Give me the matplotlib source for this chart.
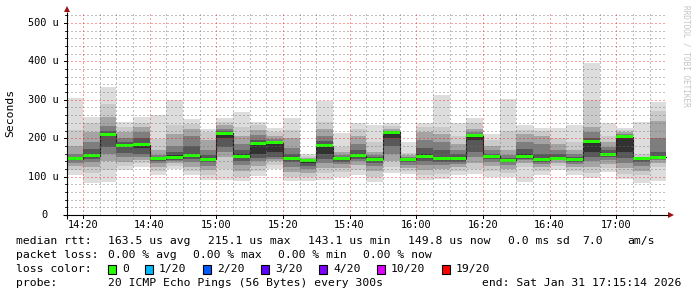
import matplotlib
matplotlib.use('Agg')
import matplotlib.pyplot as plt
from matplotlib.patches import Polygon, Rectangle
import numpy as np

# ---------------- data ----------------
# 5-minute bins starting at 14:15 (minutes after 14:00); the chart window is 14:15:14 .. 17:15:14
bin_start_min = list(range(15, 195, 5))
window_start_min = 15 + 14 / 60
window_end_min = 195 + 14 / 60

# median rtt per bin (microseconds)
median_us = [147, 154, 210, 181, 183, 147, 151, 154, 145, 213, 153, 187,
             188, 147, 143.1, 180, 147, 154, 145, 215.1, 145, 152, 146, 146,
             207, 153, 143, 152, 143.5, 148, 144, 191, 157, 204, 148, 149.8]

# smoke bands (outer -> inner): upper edges
smoke_hi = [
    [304, 222, 180, 160, 152, 149], [256, 240, 215, 190, 172, 158],
    [334, 288, 255, 232, 218, 212], [243, 230, 215, 200, 190, 184],
    [256, 240, 228, 215, 200, 188], [260, 197, 170, 155, 150, 148],
    [300, 235, 210, 180, 165, 155], [249, 238, 225, 205, 180, 160],
    [224, 215, 195, 170, 155, 148], [252, 243, 235, 225, 220, 216],
    [269, 230, 205, 185, 170, 158], [243, 235, 222, 208, 195, 190],
    [226, 215, 205, 198, 192, 189], [253, 222, 200, 175, 158, 150],
    [159, 153, 148, 146, 144, 143], [297, 243, 225, 205, 192, 184],
    [213, 178, 165, 155, 150, 148], [240, 225, 205, 185, 170, 158],
    [234, 190, 165, 155, 150, 147], [239, 232, 225, 220, 217, 216],
    [190, 162, 155, 150, 147, 146], [239, 228, 215, 195, 175, 160],
    [312, 230, 210, 190, 170, 152], [239, 205, 185, 168, 158, 150],
    [253, 240, 225, 215, 210, 209], [210, 195, 180, 168, 160, 155],
    [302, 220, 170, 155, 148, 145], [234, 222, 210, 190, 172, 158],
    [227, 218, 205, 185, 160, 147], [227, 200, 185, 170, 160, 152],
    [234, 190, 170, 158, 150, 146], [395, 300, 230, 215, 200, 193],
    [240, 205, 190, 178, 168, 160], [226, 222, 215, 210, 207, 206],
    [241, 158, 152, 150, 149, 148], [293, 270, 245, 200, 165, 152],
]
# smoke bands (outer -> inner): lower edges
smoke_lo = [
    [104, 118, 128, 136, 142, 145], [84, 110, 125, 137, 145, 151],
    [87, 118, 140, 160, 178, 205], [117, 128, 138, 150, 162, 176],
    [126, 135, 142, 150, 160, 175], [103, 115, 125, 135, 141, 145],
    [119, 128, 135, 140, 144, 148], [105, 115, 125, 138, 145, 151],
    [92, 105, 118, 128, 137, 142], [91, 120, 150, 165, 178, 200],
    [88, 100, 115, 130, 140, 148], [101, 115, 128, 140, 148, 160],
    [120, 130, 140, 147, 152, 165], [88, 100, 112, 125, 137, 143],
    [88, 100, 110, 120, 128, 135], [92, 110, 122, 135, 145, 160],
    [100, 112, 122, 132, 138, 143], [105, 118, 130, 140, 146, 151],
    [85, 100, 115, 128, 136, 142], [109, 125, 140, 160, 180, 200],
    [106, 115, 123, 130, 137, 142], [91, 105, 118, 130, 140, 148],
    [94, 108, 120, 130, 138, 143], [103, 115, 125, 133, 139, 143],
    [108, 120, 135, 150, 165, 195], [100, 115, 128, 138, 145, 150],
    [100, 110, 120, 130, 137, 141], [87, 125, 135, 142, 146, 150],
    [104, 115, 125, 133, 138, 141], [117, 128, 136, 142, 145, 147],
    [104, 115, 125, 133, 138, 142], [97, 110, 125, 140, 150, 165],
    [111, 122, 132, 142, 150, 155], [94, 108, 122, 135, 148, 165],
    [84, 104, 115, 128, 138, 144], [88, 125, 135, 142, 146, 148],
]
smoke_grey = [221, 202, 164, 126, 88, 50]

x_tick_min = [20, 40, 60, 80, 100, 120, 140, 160, 180]
x_tick_labels = ['14:20', '14:40', '15:00', '15:20', '15:40', '16:00', '16:20', '16:40', '17:00']
y_tick_vals = [0, 100, 200, 300, 400, 500]
y_tick_labels = ['0', '100 u', '200 u', '300 u', '400 u', '500 u']

loss_labels = ['0', '1/20', '2/20', '3/20', '4/20', '10/20', '19/20']
loss_colors = ['#26ff00', '#00b8ff', '#0059ff', '#5e00ff', '#7e00ff', '#dd00ff', '#ff0000']

stats_rtt = ['163.5 us avg', '215.1 us max', '143.1 us min', '149.8 us now', '0.0 ms sd', '7.0', 'am/s']
stats_loss = ['0.00 % avg', '0.00 % max', '0.00 % min', '0.00 % now']
probe_text = '20 ICMP Echo Pings (56 Bytes) every 300s'
end_text = 'end: Sat Jan 31 17:15:14 2026'

# ---------------- figure ----------------
W, H = 697, 297
fig = plt.figure(figsize=(W / 100, H / 100), dpi=100)
fig.patch.set_facecolor('white')

AX_L, AX_R, AX_B, AX_T = 67, 667, 215, 12
px_per_u = 0.384
ax = fig.add_axes([AX_L / W, 1 - AX_B / H, (AX_R - AX_L) / W, (AX_B - AX_T) / H])
ax.set_xlim(window_start_min, window_end_min)
ax.set_ylim(0, (AX_B - AX_T) / px_per_u)
ax.set_facecolor('white')
for s in ax.spines.values():
    s.set_visible(False)
ax.set_xticks([])
ax.set_yticks([])

starts = np.array(bin_start_min, dtype=float)
hi = np.array(smoke_hi, dtype=float)
lo = np.array(smoke_lo, dtype=float)
med = np.array(median_us, dtype=float)

for j, g in enumerate(smoke_grey):
    c = '#%02x%02x%02x' % (g, g, g)
    ax.bar(starts, hi[:, j] - lo[:, j], bottom=lo[:, j], width=5, align='edge',
           color=c, linewidth=0, zorder=1 + j * 0.01)

# dark median step line
ax.step(np.r_[starts, starts[-1] + 5], np.r_[med, med[-1]], where='post',
        color='#202020', lw=0.8, zorder=2)
# green median band (0 loss)
sw = 1.5 / px_per_u
ax.bar(starts, 2 * sw, bottom=med - sw, width=5, align='edge',
       color=loss_colors[0], linewidth=0, zorder=3)

# grid on top (rrdtool style, dotted)
dot = (0, (1, 2))
ymax = (AX_B - AX_T) / px_per_u
minor_c = (0.45, 0.45, 0.45, 0.45)
major_c = (1, 0, 0, 0.38)
for v in range(20, int(ymax) + 1, 20):
    c = major_c if v % 100 == 0 else minor_c
    ax.axhline(v, color=c, lw=1.0, ls=dot, zorder=5, antialiased=False)
for m in range(20, 195, 5):
    c = major_c if m % 20 == 0 else minor_c
    ax.axvline(m, color=c, lw=1.0, ls=dot, zorder=5, antialiased=False)

# ---------------- overlay in pixel coordinates ----------------
ov = fig.add_axes([0, 0, 1, 1], facecolor='none')
ov.set_xlim(0, W)
ov.set_ylim(H, 0)
ov.axis('off')

mono = 'DejaVu Sans Mono'
AXFS = 7.4
LGFS = 8.2

# axes lines
ov.plot([63, 668], [215, 215], color='black', lw=0.8, solid_capstyle='butt')
ov.plot([67, 67], [219, 12], color='black', lw=0.8, solid_capstyle='butt')
ov.add_patch(Polygon([[668, 212], [668, 218], [674, 215]], closed=True, color='#a01010', lw=0))
ov.add_patch(Polygon([[64, 12], [70, 12], [67, 6]], closed=True, color='#a01010', lw=0))

# y ticks & labels
for v, lab in zip(y_tick_vals, y_tick_labels):
    py = AX_B - v * px_per_u
    ov.plot([64, 67], [py, py], color='black', lw=0.7)
    xr = 59 if lab != '0' else 47
    ov.text(xr, py, lab, ha='right', va='center', family=mono, fontsize=AXFS, color='black')
for v in range(20, 521, 20):
    if v % 100:
        py = AX_B - v * px_per_u
        ov.plot([65, 67], [py, py], color='black', lw=0.6)

# x tick labels
for m, lab in zip(x_tick_min, x_tick_labels):
    px = AX_L + (m - window_start_min) * (AX_R - AX_L) / (window_end_min - window_start_min)
    ov.plot([px, px], [215, 218], color='black', lw=0.7)
    ov.text(px, 225, lab, ha='center', va='center', family=mono, fontsize=AXFS, color='black')

ov.text(10, 113, 'Seconds', rotation=90, ha='center', va='center', family=mono, fontsize=LGFS)
ov.text(686, 5, 'RRDTOOL / TOBI OETIKER', rotation=270, ha='center', va='top',
        family=mono, fontsize=5.6, color='#c4c4c4')

# legend lines
y1, y2, y3, y4 = 241, 255, 269, 283
ov.text(16, y1, 'median rtt:', ha='left', va='center', family=mono, fontsize=LGFS)
for x, t in zip([108, 207.5, 307.5, 407.5, 507.5, 582, 627], stats_rtt):
    ov.text(x, y1, t, ha='left', va='center', family=mono, fontsize=LGFS)
ov.text(16, y2, 'packet loss:', ha='left', va='center', family=mono, fontsize=LGFS)
for x, t in zip([108, 193, 278, 363], stats_loss):
    ov.text(x, y2, t, ha='left', va='center', family=mono, fontsize=LGFS)
ov.text(16, y3, 'loss color:', ha='left', va='center', family=mono, fontsize=LGFS)
for bx, t, c in zip([108, 145, 203, 261, 319, 377, 442], loss_labels, loss_colors):
    ov.add_patch(Rectangle((bx, y3 - 4.5), 8, 9, facecolor=c, edgecolor='black', lw=0.8))
    ov.text(bx + 14, y3, t, ha='left', va='center', family=mono, fontsize=LGFS)
ov.text(16, y4, 'probe:', ha='left', va='center', family=mono, fontsize=LGFS)
ov.text(108, y4, probe_text, ha='left', va='center', family=mono, fontsize=LGFS)
ov.text(681, y4, end_text, ha='right', va='center', family=mono, fontsize=LGFS)

fig.savefig('out.png', dpi=100, facecolor='white')
